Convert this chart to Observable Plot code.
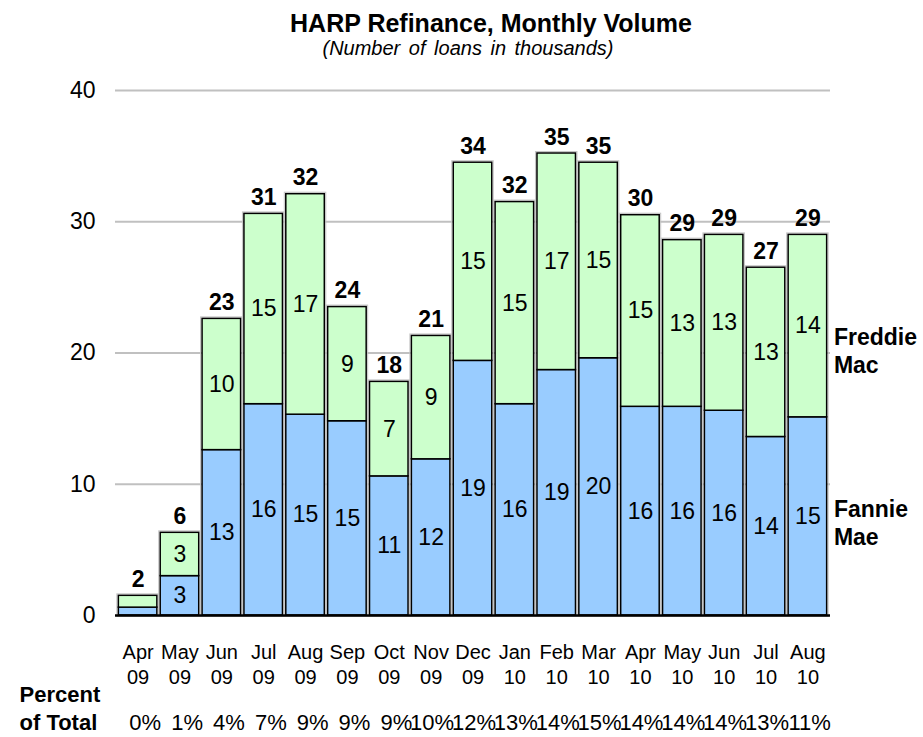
<!DOCTYPE html>
<html>
<head>
<meta charset="utf-8">
<script src="https://cdn.jsdelivr.net/npm/d3@7"></script>
<script src="https://cdn.jsdelivr.net/npm/@observablehq/plot@0.6"></script>
<style>
  body { margin: 0; background: #fff; font-family: "Liberation Sans", Arial, sans-serif; color: #000; }
  #wrap { position: relative; width: 923px; height: 737px; overflow: hidden; background: #fff; }
  #title { position: absolute; left: 491px; top: 11px; transform: translateX(-50%); font-size: 25px; font-weight: bold; line-height: 25px; white-space: nowrap; }
  #subtitle { position: absolute; left: 468px; top: 38px; transform: translateX(-50%); font-size: 20px; font-style: italic; line-height: 20px; white-space: nowrap; word-spacing: 3px; }
  #chart { position: absolute; left: 0; top: 60px; }
</style>
</head>
<body>
<div id="wrap">
  <div id="title">HARP Refinance, Monthly Volume</div>
  <div id="subtitle">(Number of loans in thousands)</div>
  <div id="chart"></div>
</div>
<script>
// ---- data ----
const months = ["Apr 09","May 09","Jun 09","Jul 09","Aug 09","Sep 09","Oct 09","Nov 09","Dec 09",
                "Jan 10","Feb 10","Mar 10","Apr 10","May 10","Jun 10","Jul 10","Aug 10"];
const fannie  = [0.6, 3.0, 12.6, 16.1, 15.3, 14.8, 10.6, 11.9, 19.4, 16.1, 18.7, 19.6, 15.9, 15.9, 15.6, 13.6, 15.1];
const freddie = [0.9, 3.3, 10.0, 14.5, 16.8,  8.7,  7.2,  9.4, 15.1, 15.4, 16.5, 14.9, 14.6, 12.7, 13.4, 12.9, 13.9];
const totalLabels = ["2","6","23","31","32","24","18","21","34","32","35","35","30","29","29","27","29"];
const percentOfTotal = ["0%","1%","4%","7%","9%","9%","9%","10%","12%","13%","14%","15%","14%","14%","14%","13%","11%"];
const seriesNames = ["Fannie Mae", "Freddie Mac"];
const seriesColors = ["#99CCFF", "#CCFFCC"];
const yTicks = [0, 10, 20, 30, 40];

// ---- tables ----
const rows = months.flatMap((m, i) => [
  {month: m, series: seriesNames[0], value: fannie[i]},
  {month: m, series: seriesNames[1], value: freddie[i]}
]);
const totals = months.map((m, i) => ({
  month: m, total: fannie[i] + freddie[i], label: totalLabels[i],
  pct: percentOfTotal[i], tick: m.replace(" ", "\n")
}));

// narrow font detection
function hasFont(name) {
  const c = document.createElement("canvas").getContext("2d");
  const s = "mmmmwwwiiil0123%";
  c.font = "40px monospace"; const a = c.measureText(s).width;
  c.font = `40px '${name}', monospace`; const b = c.measureText(s).width;
  return a !== b;
}
const narrowOK = hasFont("Liberation Sans Narrow");
const sans = '"Liberation Sans", Arial, sans-serif';
const narrow = narrowOK ? '"Liberation Sans Narrow", "Arial Narrow", sans-serif' : sans;

const plot = Plot.plot({
  width: 923, height: 677,
  marginTop: 30, marginBottom: 122, marginLeft: 115, marginRight: 93,
  style: {fontFamily: sans, fontSize: "23px", color: "#000", background: "#fff", overflow: "visible"},
  x: {domain: months, padding: 0.08, round: false, axis: null},
  y: {domain: [0, 40], axis: null},
  color: {domain: seriesNames, range: seriesColors},
  marks: [
    Plot.gridY(yTicks.filter(t => t > 0), {stroke: "#c0c0c0", strokeOpacity: 1, strokeWidth: 2}),
    Plot.axisY(yTicks, {tickSize: 0, tickPadding: 20, fontSize: 23, label: null}),
    Plot.barY(totals, {x: "month", y: "total", fill: "none", stroke: "#c4c4c4", strokeWidth: 1, inset: -1.5}),
    Plot.barY(rows, {x: "month", y: "value", fill: "series", stroke: "#000", strokeWidth: 1.5}),
    Plot.ruleY([0], {stroke: "#000", strokeWidth: 2.5}),
    Plot.text(rows, Plot.stackY({x: "month", y: "value",
      text: d => d.value >= 2 ? String(Math.round(d.value)) : "", fontSize: 23})),
    Plot.text(totals, {x: "month", y: "total", text: "label", fontWeight: "bold", fontSize: 23,
      lineAnchor: "bottom", dy: -9}),
    Plot.text(totals, {x: "month", text: "tick", frameAnchor: "bottom", lineAnchor: "bottom",
      dy: 68, fontSize: 20, lineHeight: 1.25}),
    Plot.text(totals, {x: "month", text: "pct", frameAnchor: "bottom", lineAnchor: "bottom",
      textAnchor: "end", dx: 23, dy: 114, fontSize: 22, fontFamily: narrow, ariaLabel: "pct"}),
    Plot.text(["Percent\nof Total"], {frameAnchor: "bottom-left", textAnchor: "start", lineAnchor: "bottom",
      dx: -96, dy: 114, fontWeight: "bold", fontSize: 22, lineHeight: 1.27}),
    Plot.text([{month: months[months.length - 1], y: 20.2, label: "Freddie\nMac"},
               {month: months[months.length - 1], y: 7.1, label: "Fannie\nMae"}],
      {x: "month", y: "y", text: "label", dx: 26, textAnchor: "start", lineAnchor: "middle",
       fontWeight: "bold", fontSize: 23, lineHeight: 1.22})
  ]
});
document.getElementById("chart").appendChild(plot);

if (!narrowOK) {
  plot.querySelectorAll('g[aria-label="pct"] text').forEach(t => {
    const tr = t.getAttribute("transform") || "";
    t.setAttribute("transform", tr + " scale(0.8,1)");
  });
}
</script>
</body>
</html>
